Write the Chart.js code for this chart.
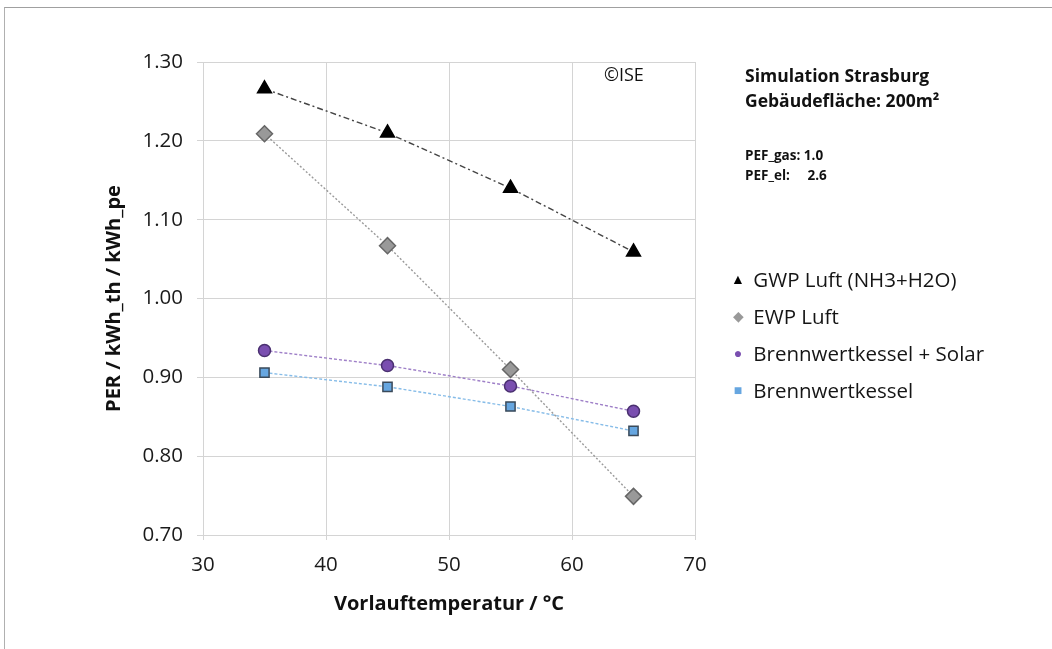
<!DOCTYPE html>
<html>
<head>
<meta charset="utf-8">
<script src="https://cdn.jsdelivr.net/npm/chart.js@4/dist/chart.umd.min.js"></script>
<style>
  html, body { margin: 0; padding: 0; background: #fff; }
  #wrap { position: relative; width: 1052px; height: 649px; font-family: 'Open Sans', sans-serif; color: #111; }
  #frame { position: absolute; left: 4px; top: 7px; right: 0; bottom: 0; border-top: 1px solid #a0a0a0; border-left: 1px solid #b0b0b0; }
  canvas { position: absolute; left: 0; top: 0; }
  .note { position: absolute; white-space: pre; font-weight: bold; }
  .leg { position: absolute; left: 728px; font-size: 20.5px; line-height: 26px; white-space: nowrap; color: #151515; }
  .leg span { display: inline-block; width: 20px; text-align: center; font-size: 14px; vertical-align: 3px; }
</style>
</head>
<body>
<div id="wrap">
  <div id="frame"></div>
  <canvas id="per-chart" width="1052" height="649"></canvas>
  <div class="note" style="left:604px; top:62px; font-size:18px; font-weight:normal;">©ISE</div>
  <div class="note" style="left:745px; top:63px; font-size:17.5px;">Simulation Strasburg</div>
  <div class="note" style="left:745px; top:88px; font-size:17.5px;">Gebäudefläche: 200m²</div>
  <div class="note" style="left:745px; top:146px; font-size:13.5px;">PEF_gas: 1.0</div>
  <div class="note" style="left:745px; top:166px; font-size:13.5px;">PEF_el:     2.6</div>
  <div id="legend"></div>
</div>
<script>
const temps = [35, 45, 55, 65];
const gwpLuft = [1.266, 1.210, 1.140, 1.059];
const ewpLuft = [1.209, 1.067, 0.910, 0.749];
const bwkSolar = [0.934, 0.915, 0.889, 0.857];
const bwk = [0.906, 0.888, 0.863, 0.832];

const seriesStyle = [
  { label: 'GWP Luft (NH3+H2O)', data: gwpLuft, color: '#000000', border: '#000000', line: '#444444', dash: [6, 3, 2, 3], point: 'triangle', radius: 8, sym: '▲' },
  { label: 'EWP Luft', data: ewpLuft, color: '#999999', border: '#666666', line: '#9a9a9a', dash: [2, 2], point: 'rectRot', radius: 8, sym: '◆' },
  { label: 'Brennwertkessel + Solar', data: bwkSolar, color: '#7a4fb0', border: '#4a3070', line: '#9f80c8', dash: [3, 2], point: 'circle', radius: 6, sym: '●' },
  { label: 'Brennwertkessel', data: bwk, color: '#66a6e0', border: '#3a4a5a', line: '#86bce8', dash: [3, 2], point: 'rect', radius: 6.5, sym: '■' },
];

const legendTops = [266, 303, 340, 377];
const legendColors = ['#000', '#999', '#7a4fb0', '#66a6e0'];
const legendElm = document.getElementById('legend');
seriesStyle.forEach((s, i) => {
  const div = document.createElement('div');
  div.className = 'leg';
  div.style.top = legendTops[i] + 'px';
  div.innerHTML = `<span style="color:${legendColors[i]}">${s.sym}</span> ${s.label}`;
  legendElm.appendChild(div);
});

const font = { family: "'Open Sans', sans-serif" };

new Chart(document.getElementById('per-chart'), {
  type: 'line',
  data: {
    datasets: seriesStyle.map((s) => ({
      label: s.label,
      data: temps.map((t, i) => ({ x: t, y: s.data[i] })),
      borderColor: s.line,
      borderWidth: 1.4,
      borderDash: s.dash,
      backgroundColor: s.color,
      pointBackgroundColor: s.color,
      pointBorderColor: s.border,
      pointBorderWidth: 1.5,
      pointStyle: s.point,
      pointRadius: s.radius,
      tension: 0,
    })),
  },
  options: {
    responsive: false,
    animation: false,
    layout: { padding: { left: 100, right: 357, top: 62, bottom: 30 } },
    plugins: { legend: { display: false }, tooltip: { enabled: false } },
    scales: {
      x: {
        type: 'linear',
        min: 30,
        max: 70,
        ticks: { stepSize: 10, color: '#1a1a1a', font: { ...font, size: 20.5 }, padding: 13 },
        grid: { color: '#d4d4d4', tickLength: 5 },
        border: { color: '#d4d4d4' },
        title: { display: true, text: 'Vorlauftemperatur / °C', color: '#111', font: { ...font, size: 20, weight: 'bold' }, padding: { top: 0, bottom: 3 } },
        afterFit: (scale) => { scale.height = 84; },
      },
      y: {
        min: 0.7,
        max: 1.3,
        ticks: { stepSize: 0.1, color: '#1a1a1a', font: { ...font, size: 20.5 }, padding: 14, callback: (v) => v.toFixed(2) },
        grid: { color: '#d4d4d4', tickLength: 6 },
        border: { color: '#d4d4d4' },
        title: { display: true, text: 'PER / kWh_th / kWh_pe', color: '#111', font: { ...font, size: 20, weight: 'bold' }, padding: { top: 2, bottom: 0 } },
        afterFit: (scale) => { scale.width = 103; },
      },
    },
  },
});
</script>
</body>
</html>
